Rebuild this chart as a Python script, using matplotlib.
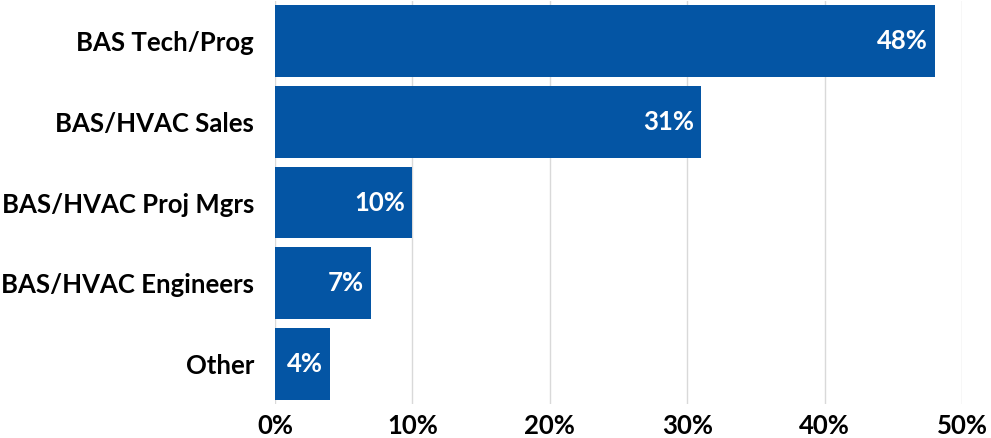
import matplotlib
matplotlib.use("Agg")
import matplotlib.pyplot as plt
from matplotlib.ticker import FuncFormatter

# data
roles = ["BAS Tech/Prog", "BAS/HVAC Sales", "BAS/HVAC Proj Mgrs",
         "BAS/HVAC Engineers", "Other"]
shares = [48, 31, 10, 7, 4]
x_ticks = [0, 10, 20, 30, 40, 50]

bar_col = "#0455A4"
fs = 18.5
plt.rcParams["font.family"] = ["Lato", "DejaVu Sans"]
plt.rcParams["font.weight"] = "bold"

fig = plt.figure(figsize=(9.91, 4.38), dpi=100, facecolor="white")
ax = fig.add_axes([275 / 991, 1 - 404 / 438, 687 / 991, 403 / 438])

ypos = list(range(len(roles)))
bars = ax.barh(ypos, shares, height=0.89, color=bar_col, zorder=3)
ax.set_ylim(len(roles) - 0.5, -0.5)
ax.set_xlim(0, 50)

# value labels inside the bar ends
for y, v in zip(ypos, shares):
    ax.annotate("%d%%" % v, xy=(v, y), xytext=(-5, 0), textcoords="offset points",
                ha="right", va="center", color="white", fontsize=fs,
                fontweight="bold", zorder=4)

ax.set_yticks(ypos)
ax.set_yticklabels(roles, fontsize=fs, fontweight="bold")
ax.set_xticks(x_ticks)
ax.xaxis.set_major_formatter(FuncFormatter(lambda v, p: "%d%%" % v))
for t in ax.get_xticklabels():
    t.set_fontsize(fs)
    t.set_fontweight("bold")
ax.tick_params(axis="both", length=0)
ax.tick_params(axis="y", pad=15)
ax.tick_params(axis="x", pad=7)
ax.grid(axis="x", color="#D9D9D9", linewidth=1, zorder=0)
for s in ax.spines.values():
    s.set_visible(False)

fig.savefig("out.png", dpi=100)
